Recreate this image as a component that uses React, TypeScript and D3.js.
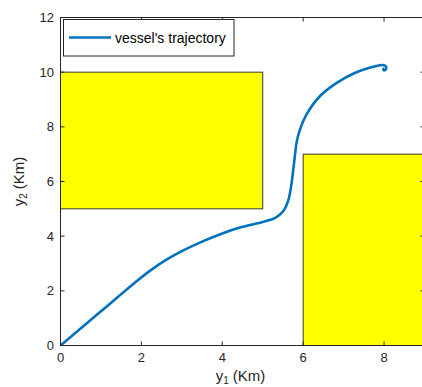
import React from "react";
import * as d3 from "d3";

const trajX = [0, 1.0, 1.8, 2.2, 2.6, 3.0, 3.5, 4.0, 4.5, 5.0, 5.3, 5.5, 5.63, 5.71, 5.76, 5.8, 5.84, 5.92, 6.07, 6.4, 6.81, 7.3, 7.71, 7.96, 8.04, 8.05, 8.0, 7.98];
const trajY = [0, 1.25, 2.25, 2.72, 3.12, 3.45, 3.8, 4.1, 4.34, 4.52, 4.66, 4.9, 5.3, 5.9, 6.5, 7.0, 7.45, 7.9, 8.42, 9.1, 9.59, 9.99, 10.19, 10.26, 10.22, 10.12, 10.06, 10.12];

const obstacleX0 = [0, 6];
const obstacleX1 = [5, 9];
const obstacleY0 = [5, 0];
const obstacleY1 = [10, 7];

const xTicks = [0, 2, 4, 6, 8];
const yTicks = [0, 2, 4, 6, 8, 10, 12];
const legendLabel = "vessel's trajectory";

const W = 422;
const H = 387;
const left = 60.5;
const right = 424.5;
const top = 17.5;
const bottom = 345.5;

export default function App() {
  const x = d3.scaleLinear().domain([0, 9]).range([left, right]);
  const y = d3.scaleLinear().domain([0, 12]).range([bottom, top]);
  const pts: [number, number][] = trajX.map((v, i) => [v, trajY[i]]);
  const line = d3
    .line<[number, number]>()
    .x((d) => x(d[0]))
    .y((d) => y(d[1]))
    .curve(d3.curveCatmullRom.alpha(0.5));
  const axisColor = "#262626";
  const font = "'Liberation Sans', Arial, sans-serif";
  const tl = 4;
  return (
    <svg
      width={W}
      height={H}
      style={{ position: "absolute", left: 0, top: 0, background: "#fff" }}
      fontFamily={font}
    >
      <defs>
        <clipPath id="plotclip">
          <rect x={left} y={top} width={right - left} height={bottom - top} />
        </clipPath>
      </defs>
      <rect x={0} y={0} width={W} height={H} fill="#fff" />
      <g clipPath="url(#plotclip)">
        {obstacleX0.map((x0, i) => (
          <rect
            key={i}
            x={x(x0)}
            y={y(obstacleY1[i])}
            width={x(obstacleX1[i]) - x(x0)}
            height={y(obstacleY0[i]) - y(obstacleY1[i])}
            fill="#ffff00"
            stroke="#3a3a2a"
            strokeWidth={1}
          />
        ))}
        <path
          d={line(pts) || ""}
          fill="none"
          stroke="#0072BD"
          strokeWidth={2.6}
          strokeLinejoin="round"
          strokeLinecap="round"
        />
      </g>
      <rect
        x={left}
        y={top}
        width={right - left}
        height={bottom - top}
        fill="none"
        stroke={axisColor}
        strokeWidth={1}
      />
      {xTicks.map((t) => (
        <g key={"x" + t}>
          <line x1={x(t)} x2={x(t)} y1={bottom} y2={bottom - tl} stroke={axisColor} />
          <line x1={x(t)} x2={x(t)} y1={top} y2={top + tl} stroke={axisColor} />
          <text x={x(t)} y={362} textAnchor="middle" fontSize={13} fill={axisColor}>
            {t}
          </text>
        </g>
      ))}
      {yTicks.map((t) => (
        <g key={"y" + t}>
          <line x1={left} x2={left + tl} y1={y(t)} y2={y(t)} stroke={axisColor} />
          <line x1={right} x2={right - tl} y1={y(t)} y2={y(t)} stroke={axisColor} />
          <text x={54} y={y(t) + 4.6} textAnchor="end" fontSize={13} fill={axisColor}>
            {t}
          </text>
        </g>
      ))}
      <text x={(left + right) / 2 - 2} y={381} textAnchor="middle" fontSize={15} fill={axisColor}>
        y<tspan fontSize={10} dy={3}>1</tspan>
        <tspan dy={-3}> (Km)</tspan>
      </text>
      <text
        transform={`translate(24,${(top + bottom) / 2}) rotate(-90)`}
        textAnchor="middle"
        fontSize={15}
        fill={axisColor}
      >
        y<tspan fontSize={10} dy={3}>2</tspan>
        <tspan dy={-3}> (Km)</tspan>
      </text>
      <rect x={63.5} y={19.5} width={170.5} height={36.5} fill="#fff" stroke={axisColor} strokeWidth={1} />
      <line x1={69} x2={111} y1={37.5} y2={37.5} stroke="#0072BD" strokeWidth={2.6} />
      <text x={115} y={42.5} fontSize={14} fill="#000">
        {legendLabel}
      </text>
    </svg>
  );
}
